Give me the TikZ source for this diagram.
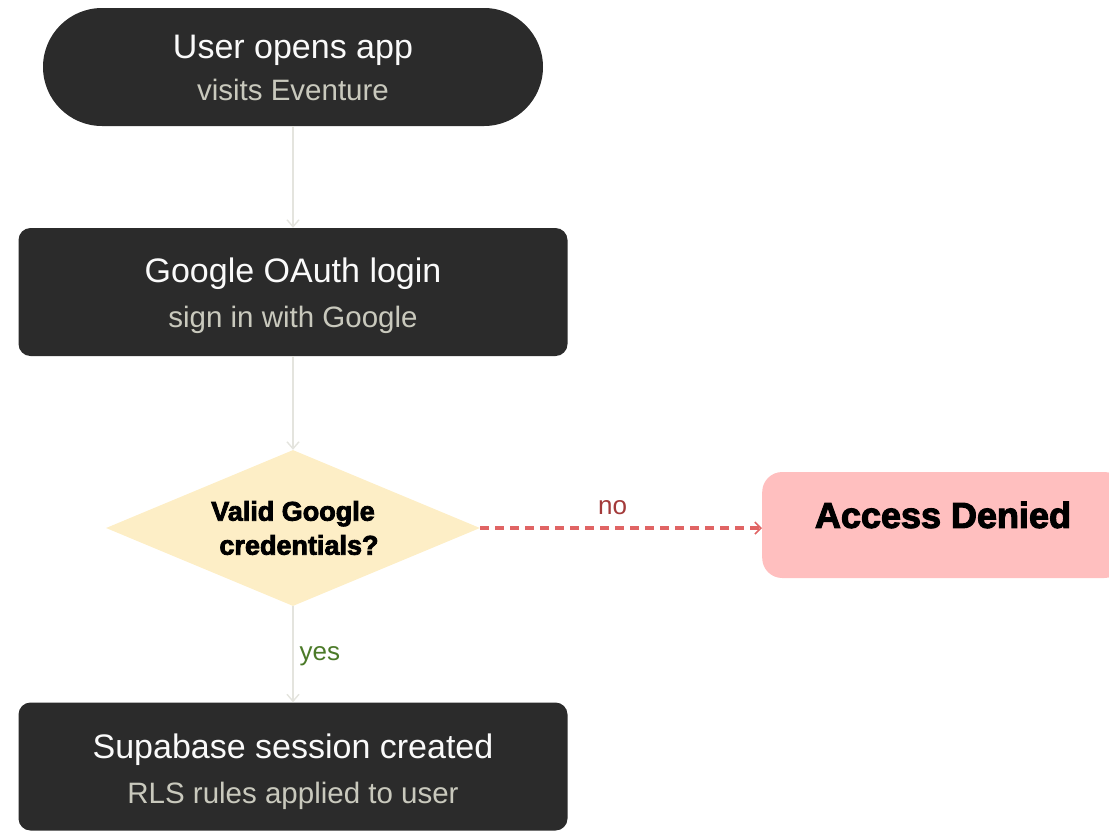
\documentclass[tikz,border=0pt]{standalone}
\usepackage{fontspec}
\setmainfont{Liberation Sans}
\newfontfamily\heavyfont[FakeBold=3]{Liberation Sans Bold}
\usetikzlibrary{shapes.geometric,arrows.meta}
\definecolor{darkfill}{HTML}{2B2B2B}
\definecolor{titlecol}{HTML}{FAFAFA}
\definecolor{subcol}{HTML}{C9C9BD}
\definecolor{arrowcol}{HTML}{E4E4DE}
\definecolor{decfill}{HTML}{FDEEC6}
\definecolor{denyfill}{HTML}{FFBFBF}
\definecolor{dashcol}{HTML}{E06464}
\definecolor{nocol}{HTML}{A33A3A}
\definecolor{yescol}{HTML}{4B7A28}
\tikzset{
  darkbox/.style={fill=darkfill, draw=none, rounded corners=12pt, minimum width=549pt, minimum height=128pt, inner sep=0pt},
  titletxt/.style={text=titlecol, font=\fontsize{34}{40}\selectfont, anchor=base, inner sep=0pt},
  subtxt/.style={text=subcol, font=\fontsize{29.5}{34}\selectfont, anchor=base, inner sep=0pt},
  flow/.style={draw=arrowcol, line width=1.4pt, -{Straight Barb[length=7pt,width=12pt]}},
  nopath/.style={draw=dashcol, line width=3.2pt, dash pattern=on 9pt off 6pt, -{Straight Barb[length=6pt,width=12pt,line width=1.6pt]}},
}
\begin{document}
\begin{tikzpicture}[x=1pt,y=-1pt]
\useasboundingbox (0,0) rectangle (1109,831);
\clip (0,0) rectangle (1109,831);
% node 1: stadium
\node[fill=darkfill, rounded corners=59pt, minimum width=500pt, minimum height=118pt, inner sep=0pt] (start) at (293,67) {};
\node[titletxt] (startT) at (293,58) {User opens app};
\node[subtxt] (startS) at (293,100) {visits Eventure};
% node 2
\node[darkbox] (oauth) at (293,292) {};
\node[titletxt] (oauthT) at (293,282) {Google OAuth login};
\node[subtxt] (oauthS) at (293,327) {sign in with Google};
% decision
\node[diamond, fill=decfill, draw=none, shape aspect=2.4, minimum width=374pt, minimum height=156pt, inner sep=0pt,
      align=center, font=\heavyfont\fontsize{27}{34}\selectfont, text=black] (valid) at (293,528) {Valid Google\\\hspace*{12pt}credentials?};
% deny
\node[fill=denyfill, rounded corners=20pt, minimum width=362pt, minimum height=106pt, inner sep=0pt, anchor=west] (deny) at (762,525) {};
\node[font=\heavyfont\fontsize{36}{40}\selectfont, text=black, inner sep=0pt] (denyT) at (943,515) {Access Denied};
% node 3
\node[darkbox] (session) at (293,766.5) {};
\node[titletxt] (sessionT) at (293,758) {Supabase session created};
\node[subtxt] (sessionS) at (293,803) {RLS rules applied to user};
% connectors
\draw[flow] (start.south) -- (oauth.north);
\draw[flow] (oauth.south) -- (valid.north);
\draw[flow] (valid.south) -- node[pos=0.52, right=6pt, text=yescol, font=\fontsize{26}{30}\selectfont, inner sep=0pt] (yesL) {yes} (session.north);
\draw[nopath] (valid.east) -- node[pos=0.47, above=12pt, text=nocol, font=\fontsize{26}{30}\selectfont, inner sep=0pt] (noL) {no} (deny.west |- valid.east);
\end{tikzpicture}
\end{document}
